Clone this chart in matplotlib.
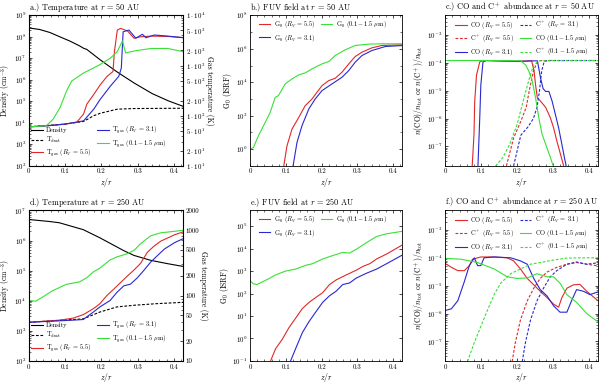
import math
import matplotlib
matplotlib.use("Agg")
import matplotlib.pyplot as plt
from matplotlib.ticker import FixedLocator, FuncFormatter, MultipleLocator, LogLocator, NullFormatter
from matplotlib.lines import Line2D

plt.rcParams['font.family'] = 'serif'
plt.rcParams['font.serif'] = ['cmr10', 'DejaVu Serif']
plt.rcParams['mathtext.fontset'] = 'cm'
plt.rcParams['axes.formatter.use_mathtext'] = True
plt.rcParams['axes.unicode_minus'] = False

RED, BLUE, GREEN, BLACK = '#e02828', '#2828d0', '#38e038', 'black'

# ---- panel a: temperature at r = 50 AU
z_dens_a = [0, 0.03, 0.058, 0.086, 0.113, 0.14, 0.151, 0.16, 0.197, 0.244, 0.29, 0.34, 0.385, 0.43]
dens_a = [2.6e8, 2.2e8, 1.6e8, 1.0e8, 6.4e7, 3.8e7, 2.95e7, 2.6e7, 8.5e6, 2.3e6, 7.2e5, 2.3e5, 1.05e5, 5.5e4]
z_tdust_a = [0, 0.1, 0.151, 0.179, 0.197, 0.244, 0.29, 0.43]
tdust_a = [60, 68, 77, 100, 112, 135, 139, 141]
z_tred_a = [0, 0.05, 0.1, 0.132, 0.151, 0.16, 0.179, 0.197, 0.216, 0.232, 0.236, 0.244, 0.253,
            0.272, 0.29, 0.309, 0.337, 0.383, 0.43]
tred_a = [60, 63, 68, 74, 108, 170, 265, 415, 610, 760, 1900, 5100, 5500,
          4900, 3500, 3750, 3860, 3800, 3570]
z_tblue_a = [0, 0.05, 0.1, 0.151, 0.179, 0.197, 0.225, 0.248, 0.255, 0.26, 0.276, 0.295, 0.313,
             0.323, 0.346, 0.383, 0.43]
tblue_a = [60, 63, 68, 79, 135, 213, 390, 610, 890, 4700, 5100, 3500, 4200,
           3580, 4060, 3860, 3570]
z_tgreen_a = [0, 0.048, 0.067, 0.086, 0.104, 0.118, 0.151, 0.197, 0.225, 0.244, 0.258, 0.267,
              0.29, 0.337, 0.383, 0.43]
tgreen_a = [60, 63, 85, 145, 310, 490, 710, 1050, 1410, 1900, 3100, 1780,
            1950, 2190, 2190, 1860]

# ---- panel b: FUV field at r = 50 AU
z_gred_b = [0.093, 0.103, 0.117, 0.136, 0.154, 0.173, 0.201, 0.22, 0.238, 0.257, 0.276, 0.294,
            0.313, 0.341, 0.369, 0.43]
lg_gred_b = [-1.14, 0.2, 1.2, 1.9, 2.6, 3.0, 3.8, 4.1, 4.24, 4.6, 5.1, 5.54, 5.8, 6.06, 6.2, 6.24]
z_gblue_b = [0.119, 0.131, 0.145, 0.164, 0.182, 0.201, 0.229, 0.257, 0.276, 0.294, 0.313, 0.341,
             0.379, 0.43]
lg_gblue_b = [-1.14, 0.4, 1.4, 2.4, 3.0, 3.5, 3.9, 4.3, 4.7, 5.2, 5.6, 5.9, 6.14, 6.2]
z_ggreen_b = [0, 0.009, 0.023, 0.042, 0.056, 0.07, 0.079, 0.098, 0.117, 0.136, 0.154, 0.173,
              0.201, 0.22, 0.238, 0.266, 0.294, 0.332, 0.369, 0.43]
lg_ggreen_b = [0.0, 0.1, 0.8, 1.6, 2.2, 3.1, 3.2, 3.9, 4.2, 4.44, 4.56, 4.8,
               5.1, 5.24, 5.6, 5.94, 6.2, 6.28, 6.3, 6.3]

# ---- panel c: CO and C+ at r = 50 AU (log10 abundance)
z_cored_c = [0.075, 0.08, 0.082, 0.087, 0.096, 0.105, 0.2, 0.24, 0.247, 0.251, 0.256, 0.265,
             0.279, 0.292, 0.301, 0.31, 0.32, 0.329]
lg_cored_c = [-7.7, -6.56, -5.38, -4.44, -3.97, -3.92, -3.95, -3.93, -4.3, -4.8, -5.26, -5.38,
              -5.6, -5.97, -6.33, -6.8, -7.27, -7.7]
z_coblue_c = [0.091, 0.096, 0.099, 0.105, 0.114, 0.2, 0.256, 0.26, 0.265, 0.272, 0.279, 0.288,
              0.297, 0.306, 0.315, 0.324, 0.331, 0.336]
lg_coblue_c = [-7.7, -5.97, -4.79, -3.97, -3.92, -3.95, -3.93, -4.2, -4.56, -4.93, -5.03, -5.03,
               -5.38, -5.85, -6.33, -6.92, -7.39, -7.7]
z_cogreen_c = [0, 0.1, 0.21, 0.224, 0.233, 0.242, 0.251, 0.26, 0.269, 0.279, 0.292, 0.3]
lg_cogreen_c = [-3.92, -3.92, -3.93, -4.09, -4.32, -4.67, -5.26, -5.97, -6.56, -6.92, -7.39, -7.7]
z_cpred_c = [0.17, 0.19, 0.21, 0.225, 0.235, 0.245, 0.255, 0.265, 0.43]
lg_cpred_c = [-7.7, -6.7, -6.1, -5.6, -4.9, -4.3, -4.0, -3.92, -3.92]
z_cpblue_c = [0.19, 0.21, 0.23, 0.245, 0.255, 0.262, 0.268, 0.275, 0.29, 0.43]
lg_cpblue_c = [-7.7, -6.6, -6.3, -6.0, -5.6, -5.0, -4.3, -3.95, -3.92, -3.92]
z_cpgreen_c = [0.14, 0.16, 0.18, 0.2, 0.22, 0.235, 0.245, 0.26, 0.43]
lg_cpgreen_c = [-7.7, -7.4, -6.9, -6.2, -5.2, -4.5, -4.1, -3.93, -3.92]

# ---- panel d: temperature at r = 250 AU
z_dens_d = [0, 0.056, 0.084, 0.15, 0.196, 0.262, 0.29, 0.336, 0.383, 0.43]
dens_d = [5.0e6, 4.3e6, 3.9e6, 2.3e6, 1.23e6, 4.6e5, 3.2e5, 2.2e5, 1.7e5, 1.35e5]
z_tdust_d = [0, 0.15, 0.196, 0.243, 0.29, 0.35, 0.43]
tdust_d = [39, 44, 56, 67, 71, 75, 79]
z_tred_d = [0, 0.084, 0.121, 0.15, 0.178, 0.196, 0.215, 0.234, 0.252, 0.271, 0.29, 0.308,
            0.327, 0.346, 0.364, 0.383, 0.402, 0.43]
tred_d = [39, 42, 45, 51, 63, 75, 100, 125, 156, 197, 246, 310, 460, 575, 680, 760, 850, 960]
z_tblue_d = [0, 0.12, 0.15, 0.178, 0.196, 0.224, 0.243, 0.262, 0.28, 0.299, 0.318, 0.336,
             0.355, 0.374, 0.402, 0.43]
tblue_d = [39, 42, 43, 56, 67, 84, 112, 141, 149, 186, 246, 325, 410, 515, 645, 760]
z_tgreen_d = [0, 0.019, 0.037, 0.065, 0.103, 0.14, 0.159, 0.178, 0.196, 0.224, 0.243, 0.271,
              0.29, 0.308, 0.336, 0.364, 0.402, 0.43]
tgreen_d = [84, 82, 94, 118, 148, 162, 186, 230, 263, 350, 390, 435, 490, 620, 820, 910, 960, 1000]

# ---- panel e: FUV field at r = 250 AU
z_gred_e = [0.057, 0.071, 0.09, 0.108, 0.127, 0.146, 0.165, 0.184, 0.203, 0.222, 0.241, 0.269,
            0.297, 0.316, 0.335, 0.354, 0.382, 0.43]
lg_gred_e = [-1.0, -0.46, -0.03, 0.47, 0.9, 1.33, 1.61, 1.83, 2.04, 2.4, 2.61, 2.83,
             3.04, 3.21, 3.33, 3.54, 3.76, 4.2]
z_gblue_e = [0.113, 0.127, 0.146, 0.165, 0.184, 0.203, 0.222, 0.241, 0.259, 0.278, 0.297, 0.325,
             0.354, 0.382, 0.43]
lg_gblue_e = [-1.0, -0.46, 0.26, 0.76, 1.19, 1.61, 1.9, 2.11, 2.4, 2.47, 2.69, 2.9, 3.09, 3.33, 3.75]
z_ggreen_e = [0, 0.009, 0.019, 0.033, 0.052, 0.071, 0.099, 0.127, 0.156, 0.175, 0.203, 0.231,
              0.259, 0.278, 0.297, 0.325, 0.354, 0.382, 0.43]
lg_ggreen_e = [2.57, 2.43, 2.4, 2.51, 2.66, 2.83, 3.0, 3.09, 3.26, 3.33, 3.54, 3.69,
               3.83, 3.8, 3.97, 4.26, 4.54, 4.66, 4.78]

# ---- panel f: CO and C+ at r = 250 AU (log10 abundance)
z_cored_f = [0, 0.017, 0.035, 0.053, 0.067, 0.076, 0.099, 0.136, 0.172, 0.19, 0.209, 0.228,
             0.246, 0.264, 0.283, 0.301, 0.315, 0.324, 0.338, 0.356, 0.374, 0.393, 0.43]
lg_cored_f = [-4.2, -4.34, -4.46, -4.46, -4.28, -4.05, -3.97, -3.97, -4.0, -4.11, -4.4, -4.74,
              -4.97, -5.2, -5.43, -5.66, -5.77, -5.43, -5.09, -4.97, -4.95, -5.2, -5.6]
z_coblue_f = [0, 0.017, 0.035, 0.053, 0.067, 0.081, 0.09, 0.099, 0.108, 0.136, 0.182, 0.209,
              0.228, 0.246, 0.264, 0.283, 0.301, 0.319, 0.338, 0.351, 0.365, 0.384, 0.402, 0.43]
lg_coblue_f = [-5.89, -5.83, -5.54, -4.86, -4.28, -4.0, -4.28, -4.28, -4.0, -3.97, -4.0, -4.11,
               -4.23, -4.74, -5.14, -5.37, -5.72, -5.95, -5.95, -5.54, -5.14, -5.2, -5.32, -5.2]
z_cogreen_f = [0, 0.044, 0.09, 0.136, 0.172, 0.2, 0.228, 0.255, 0.283, 0.301, 0.319, 0.338,
               0.365, 0.393, 0.43]
lg_cogreen_f = [-4.02, -4.05, -4.17, -4.4, -4.68, -4.74, -4.72, -4.57, -4.68, -4.68, -4.91, -5.32,
                -5.6, -6.0, -6.35]
z_cpred_f = [0.186, 0.195, 0.209, 0.228, 0.246, 0.264, 0.283, 0.31, 0.338, 0.365, 0.393, 0.43]
lg_cpred_f = [-7.72, -7.03, -6.23, -5.54, -5.09, -4.74, -4.51, -4.34, -4.23, -4.17, -4.23, -4.3]
z_cpblue_f = [0.214, 0.223, 0.237, 0.255, 0.273, 0.292, 0.31, 0.338, 0.365, 0.393, 0.43]
lg_cpblue_f = [-7.72, -7.03, -6.23, -5.54, -5.09, -4.68, -4.46, -4.23, -4.15, -4.23, -4.17]
z_cpgreen_f = [0.062, 0.081, 0.099, 0.117, 0.136, 0.154, 0.182, 0.209, 0.237, 0.264, 0.301, 0.338,
               0.374, 0.43]
lg_cpgreen_f = [-7.72, -7.03, -6.46, -5.89, -5.32, -4.91, -4.57, -4.4, -4.23, -4.17, -4.08, -4.01,
                -4.0, -4.0]

XMAX = 0.425
LW = 0.8
DASH = (0, (2.5, 1.5))
FS_TICK = 5
FS_LAB = 5.5
FS_LEG = 4.6
FS_TITLE = 5.9
LEG_KW = dict(ncol=2, frameon=False, fontsize=FS_LEG, handlelength=1.8, columnspacing=0.9,
              labelspacing=0.35, handletextpad=0.5, borderpad=0.2, borderaxespad=0.2)


def unlog(vals):
    return [10.0 ** v for v in vals]


def pow10(v, pos):
    e = int(round(math.log10(v)))
    return r'$10^{%d}$' % e


def style(ax, right=True):
    ax.set_xlim(0, XMAX)
    ax.xaxis.set_major_locator(MultipleLocator(0.1))
    ax.xaxis.set_minor_locator(MultipleLocator(0.02))
    ax.xaxis.set_major_formatter(FuncFormatter(lambda v, p: '0' if abs(v) < 1e-9 else '%.1f' % v))
    ax.tick_params(which='both', direction='in', top=True, right=right, labelsize=FS_TICK, pad=2)
    ax.tick_params(which='major', length=2.5, width=0.5)
    ax.tick_params(which='minor', length=1.2, width=0.4)
    for s in ax.spines.values():
        s.set_linewidth(0.6)
    ax.set_xlabel(r'$z/r$', fontsize=FS_LAB, labelpad=1)


fig = plt.figure(figsize=(6.0, 3.84), dpi=100)
cols = [0.048, 0.417, 0.742]
widths = [0.257, 0.253, 0.255]
rows = [0.568, 0.06]
height = 0.392


def title(ax, txt):
    # titles sit just above the top-left corner of each panel
    x0, y0, w, h = ax.get_position().bounds
    fig.text(x0, y0 + h + 0.003, txt, fontsize=FS_TITLE, ha='left', va='bottom')


def temp_panel(ax, zd, dens, ztd, td, ztr, tr, ztb, tb, ztg, tg, ylim, tlim, tticks, tfmt, ttl):
    style(ax, right=False)
    ax.set_yscale('log')
    ax.set_ylim(*ylim)
    ax.yaxis.set_major_locator(LogLocator(base=10, numticks=20))
    ax.yaxis.set_major_formatter(FuncFormatter(pow10))
    ax.yaxis.set_minor_formatter(NullFormatter())
    ax.set_ylabel(r'Density (cm$^{-3}$)', fontsize=FS_LAB)
    ax.yaxis.set_label_coords(-0.1, 0.5)
    ax.plot(zd, dens, color=BLACK, lw=LW)
    ax2 = ax.twinx()
    ax2.set_yscale('log')
    ax2.set_ylim(*tlim)
    ax2.yaxis.set_major_locator(FixedLocator(tticks))
    ax2.yaxis.set_major_formatter(FuncFormatter(tfmt))
    ax2.yaxis.set_minor_formatter(NullFormatter())
    ax2.tick_params(which='both', direction='in', labelsize=FS_TICK, pad=2)
    ax2.tick_params(which='major', length=2.5, width=0.5)
    ax2.tick_params(which='minor', length=1.2, width=0.4)
    ax2.set_ylabel('Gas temperature (K)', fontsize=FS_LAB, rotation=270, labelpad=6)
    ax2.plot(ztd, td, color=BLACK, lw=LW, ls=DASH)
    ax2.plot(ztr, tr, color=RED, lw=LW)
    ax2.plot(ztb, tb, color=BLUE, lw=LW)
    ax2.plot(ztg, tg, color=GREEN, lw=LW)
    handles = [Line2D([], [], color=BLACK, lw=LW),
               Line2D([], [], color=BLACK, lw=LW, ls=DASH),
               Line2D([], [], color=RED, lw=LW),
               Line2D([], [], color=BLUE, lw=LW),
               Line2D([], [], color=GREEN, lw=LW)]
    labels = ['Density', r'T$_{\rm dust}$', r'T$_{\rm gas}$ ($R_V$ = 5.5)',
              r'T$_{\rm gas}$ ($R_V$ = 3.1)', r'T$_{\rm gas}$ $(0.1-1.5\ \mu{\rm m})$']
    ax2.legend(handles, labels, loc='lower left', bbox_to_anchor=(0.0, 0.03), **LEG_KW)
    title(ax, ttl)


def fuv_panel(ax, zr, gr, zb, gb, zg, gg, ylim, majors, ttl):
    style(ax)
    ax.set_yscale('log')
    ax.set_ylim(*ylim)
    ax.yaxis.set_major_locator(FixedLocator(majors))
    ax.yaxis.set_minor_locator(LogLocator(base=10, subs=(1.0,), numticks=20))
    ax.yaxis.set_major_formatter(FuncFormatter(pow10))
    ax.yaxis.set_minor_formatter(NullFormatter())
    ax.set_ylabel(r'G$_0$ (ISRF)', fontsize=FS_LAB, labelpad=1)
    l1, = ax.plot(zr, unlog(gr), color=RED, lw=LW)
    l2, = ax.plot(zb, unlog(gb), color=BLUE, lw=LW)
    l3, = ax.plot(zg, unlog(gg), color=GREEN, lw=LW)
    ax.legend([l1, l2, l3], [r'G$_0$ ($R_V$ = 5.5)', r'G$_0$ ($R_V$ = 3.1)',
                             r'G$_0$ $(0.1-1.5\ \mu{\rm m})$'],
              loc='upper left', bbox_to_anchor=(0.04, 0.99), **LEG_KW)
    title(ax, ttl)


def abund_panel(ax, cr, cb, cg, pr, pb, pg, ttl):
    style(ax)
    ax.set_yscale('log')
    ax.set_ylim(2e-8, 5e-3)
    ax.yaxis.set_major_locator(LogLocator(base=10, numticks=20))
    ax.yaxis.set_major_formatter(FuncFormatter(pow10))
    ax.yaxis.set_minor_formatter(NullFormatter())
    ax.set_ylabel(r'$n$(CO)/$n_{\rm tot}$ or $n$(C$^+$)/$n_{\rm tot}$', fontsize=FS_LAB, labelpad=1)
    h = {}
    h['cr'], = ax.plot(cr[0], unlog(cr[1]), color=RED, lw=LW)
    h['pr'], = ax.plot(pr[0], unlog(pr[1]), color=RED, lw=LW, ls=DASH)
    h['cb'], = ax.plot(cb[0], unlog(cb[1]), color=BLUE, lw=LW)
    h['pb'], = ax.plot(pb[0], unlog(pb[1]), color=BLUE, lw=LW, ls=DASH)
    h['cg'], = ax.plot(cg[0], unlog(cg[1]), color=GREEN, lw=LW)
    h['pg'], = ax.plot(pg[0], unlog(pg[1]), color=GREEN, lw=LW, ls=DASH)
    handles = [h['cr'], h['pr'], h['cb'], h['pb'], h['cg'], h['pg']]
    labels = [r'CO ($R_V$ = 5.5)', r'C$^+$ ($R_V$ = 5.5)', r'CO ($R_V$ = 3.1)',
              r'C$^+$ ($R_V$ = 3.1)', r'CO $(0.1-1.5\ \mu{\rm m})$', r'C$^+$ $(0.1-1.5\ \mu{\rm m})$']
    ax.legend(handles, labels, loc='upper left', bbox_to_anchor=(0.05, 0.99), **LEG_KW)
    title(ax, ttl)


def t_label_a(v, pos):
    e = int(math.floor(math.log10(v) + 1e-9))
    m = int(round(v / 10 ** e))
    return r'$%d\cdot10^{%d}$' % (m, e)


def t_label_d(v, pos):
    return '%d' % v


ax_a = fig.add_axes([cols[0], rows[0], widths[0], height])
temp_panel(ax_a, z_dens_a, dens_a, z_tdust_a, tdust_a, z_tred_a, tred_a, z_tblue_a, tblue_a,
           z_tgreen_a, tgreen_a, (1e2, 1e9), (10, 1e4),
           [10, 20, 50, 100, 200, 500, 1000, 2000, 5000, 10000], t_label_a,
           r'a.) Temperature at $r$ = 50 AU')

ax_b = fig.add_axes([cols[1], rows[0], widths[1], height])
fuv_panel(ax_b, z_gred_b, lg_gred_b, z_gblue_b, lg_gblue_b, z_ggreen_b, lg_ggreen_b,
          (1e-1, 1e8), [1, 1e2, 1e4, 1e6, 1e8], r'b.) FUV field at $r$ = 50 AU')

ax_c = fig.add_axes([cols[2], rows[0], widths[2], height])
abund_panel(ax_c, (z_cored_c, lg_cored_c), (z_coblue_c, lg_coblue_c), (z_cogreen_c, lg_cogreen_c),
            (z_cpred_c, lg_cpred_c), (z_cpblue_c, lg_cpblue_c), (z_cpgreen_c, lg_cpgreen_c),
            r'c.) CO and C$^+$ abundance at $r$ = 50 AU')

ax_d = fig.add_axes([cols[0], rows[1], widths[0], height])
temp_panel(ax_d, z_dens_d, dens_d, z_tdust_d, tdust_d, z_tred_d, tred_d, z_tblue_d, tblue_d,
           z_tgreen_d, tgreen_d, (1e2, 1e7), (10, 2000),
           [10, 20, 50, 100, 200, 500, 1000, 2000], t_label_d,
           r'd.) Temperature at $r$ = 250 AU')

ax_e = fig.add_axes([cols[1], rows[1], widths[1], height])
fuv_panel(ax_e, z_gred_e, lg_gred_e, z_gblue_e, lg_gblue_e, z_ggreen_e, lg_ggreen_e,
          (1e-1, 5e5), [1e-1, 1, 10, 1e2, 1e3, 1e4, 1e5], r'e.) FUV field at $r$ = 250 AU')

ax_f = fig.add_axes([cols[2], rows[1], widths[2], height])
abund_panel(ax_f, (z_cored_f, lg_cored_f), (z_coblue_f, lg_coblue_f), (z_cogreen_f, lg_cogreen_f),
            (z_cpred_f, lg_cpred_f), (z_cpblue_f, lg_cpblue_f), (z_cpgreen_f, lg_cpgreen_f),
            r'f.) CO and C$^+$ abundance at $r$ = 250 AU')

fig.savefig('out.png', dpi=100)
